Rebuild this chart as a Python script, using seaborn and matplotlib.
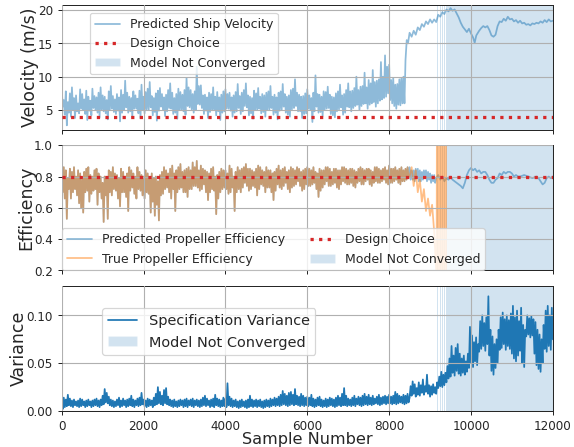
import numpy as np
import pandas as pd
import matplotlib
matplotlib.use("Agg")
import matplotlib.pyplot as plt
from matplotlib.lines import Line2D
from matplotlib.patches import Patch
import seaborn as sns

# ---------------- data ----------------
# Noisy stretches are read as an upper and a lower value per 50 samples.
STEP = 50
FINE_STEP = 25

velocity_hi = [
    8.0, 6.5, 7.8, 6.2, 7.5, 8.4, 6.8, 7.2, 6.0, 8.1, 7.4, 6.6, 7.9, 7.0, 6.4, 8.2, 7.1, 6.9, 7.6, 8.4,
    7.2, 7.0, 6.5, 7.8, 8.6, 7.1, 6.6, 7.4, 6.9, 8.0, 7.3, 9.4, 7.6, 7.0, 6.8, 7.8, 7.2, 6.7, 7.9, 8.8,
    7.0, 7.7, 8.2, 9.2, 7.1, 6.8, 7.5, 7.9, 8.3, 7.4, 6.9, 7.3, 8.0, 9.0, 7.6, 6.8, 7.4, 8.2, 7.7, 7.3,
    8.0, 9.8, 8.4, 8.0, 7.4, 7.8, 11.5, 8.6, 8.7, 7.2, 7.3, 6.9, 7.6, 7.4, 8.4, 7.0, 7.7, 6.9, 7.3, 7.8,
    8.1, 7.4, 7.6, 6.9, 7.2, 7.7, 8.9, 7.1, 7.6, 8.0, 9.0, 7.2, 7.0, 6.8, 7.9, 7.5, 8.3, 7.0, 7.4, 7.2,
    7.6, 7.8, 8.6, 7.0, 7.3, 6.9, 7.6, 7.8, 8.9, 7.4, 7.0, 7.2, 8.0, 8.2, 9.6, 7.6, 7.3, 7.0, 7.1, 7.5,
    8.1, 7.2, 6.8, 7.6, 10.2, 7.4, 7.3, 7.0, 7.8, 7.7, 8.5, 7.3, 7.0, 6.9, 7.5, 7.8, 8.8, 7.2, 7.4, 8.0,
    9.0, 7.8, 7.9, 8.3, 10.0, 8.0, 8.5, 8.6, 10.6, 8.4, 9.5, 9.0, 11.0, 9.2, 9.4, 9.6, 12.2, 10.0, 13.2, 11.5,
    11.8, 9.5, 9.8, 8.8, 8.9, 9.6, 9.8, 10.0,
]
velocity_lo = [
    5.5, 4.3, 2.7, 4.6, 4.0, 5.0, 3.8, 4.8, 4.5, 5.2, 5.0, 4.4, 3.5, 4.9, 4.2, 5.3, 5.0, 4.6, 3.9, 5.1,
    4.8, 4.5, 3.6, 5.0, 5.2, 4.7, 4.4, 4.9, 3.3, 4.6, 5.0, 5.4, 4.6, 4.8, 4.0, 5.2, 5.2, 4.5, 3.8, 5.0,
    4.5, 5.1, 5.0, 5.4, 4.2, 4.7, 3.4, 4.9, 5.5, 5.0, 4.1, 4.8, 5.3, 5.2, 4.4, 4.6, 3.7, 5.0, 5.0, 4.8,
    4.3, 5.6, 5.4, 5.1, 4.6, 5.0, 5.9, 5.8, 5.3, 4.4, 4.9, 3.8, 4.7, 5.0, 5.1, 4.2, 4.8, 3.5, 4.6, 4.8,
    5.2, 5.2, 4.9, 4.0, 4.6, 4.8, 5.3, 4.4, 4.8, 5.6, 5.4, 4.2, 4.5, 3.7, 5.0, 5.0, 5.2, 4.5, 4.7, 4.0,
    5.0, 5.1, 5.3, 4.3, 4.6, 3.6, 4.9, 5.0, 5.5, 4.6, 4.3, 4.0, 5.1, 5.3, 5.6, 4.8, 4.8, 3.8, 4.4, 4.5,
    5.2, 5.0, 3.2, 4.8, 5.5, 4.6, 4.7, 4.1, 5.0, 5.2, 5.3, 4.4, 4.2, 3.9, 4.8, 5.1, 5.4, 4.3, 4.6, 5.5,
    5.4, 4.8, 5.3, 5.6, 5.8, 5.0, 5.6, 5.9, 6.0, 5.2, 5.8, 6.0, 6.2, 5.5, 6.0, 6.4, 6.6, 6.8, 7.0, 7.5,
    6.5, 6.0, 5.6, 5.2, 5.8, 5.7, 6.0, 6.0,
]
velocity_late_x = [8400, 8430, 8460, 8500, 8550, 8600, 8650, 8700, 8750, 8800, 8850, 8900, 8950,
                   9000, 9050, 9100, 9150, 9200, 9250, 9300, 9350, 9400, 9450, 9500, 9550, 9600,
                   9650, 9700, 9750, 9800, 9850, 9900, 9950, 10000, 10050, 10090, 10130, 10200,
                   10250, 10300, 10350, 10400, 10450, 10500, 10550, 10600, 10650, 10700, 10750,
                   10800, 10850, 10900, 10950, 11000, 11050, 11100, 11150, 11200, 11250, 11300,
                   11350, 11400, 11450, 11500, 11550, 11600, 11650, 11700, 11750, 11800, 11850,
                   11900, 11950, 12000]
velocity_late_y = [12.5, 15.5, 15.0, 16.6, 16.0, 16.9, 16.3, 17.4, 17.0, 17.9, 17.5, 18.3, 17.9,
                   18.6, 18.1, 18.6, 18.2, 19.3, 19.0, 19.7, 19.4, 20.1, 19.8, 20.3, 19.9, 20.1,
                   19.5, 18.9, 18.1, 17.5, 17.1, 16.7, 17.2, 16.5, 15.9, 15.1, 16.2, 16.9,
                   17.3, 17.6, 17.4, 17.6, 17.0, 16.2, 16.0, 16.3, 17.6, 18.3, 18.2,
                   18.7, 18.4, 19.0, 18.6, 18.7, 18.3, 18.5, 18.1, 18.4, 18.0, 18.1,
                   17.8, 17.9, 17.7, 18.0, 17.9, 18.1, 18.0, 18.3, 18.1, 18.5, 18.2,
                   18.6, 18.3, 18.4]

efficiency_hi = [
    0.82, 0.86, 0.84, 0.79, 0.85, 0.83, 0.86, 0.80, 0.84, 0.82, 0.78, 0.83, 0.85, 0.86, 0.81, 0.80, 0.84, 0.85, 0.82, 0.80,
    0.76, 0.80, 0.78, 0.84, 0.83, 0.86, 0.82, 0.81, 0.79, 0.85, 0.83, 0.80, 0.82, 0.86, 0.84, 0.82, 0.80, 0.86, 0.83, 0.81,
    0.80, 0.84, 0.82, 0.78, 0.82, 0.79, 0.80, 0.77, 0.81, 0.83, 0.86, 0.84, 0.82, 0.85, 0.87, 0.82, 0.84, 0.86, 0.88, 0.83,
    0.84, 0.85, 0.86, 0.84, 0.89, 0.86, 0.90, 0.84, 0.87, 0.85, 0.84, 0.83, 0.82, 0.85, 0.86, 0.80, 0.81, 0.83, 0.85, 0.84,
    0.84, 0.82, 0.87, 0.85, 0.80, 0.83, 0.86, 0.84, 0.85, 0.86, 0.88, 0.85, 0.85, 0.84, 0.83, 0.85, 0.87, 0.86, 0.84, 0.83,
    0.86, 0.84, 0.84, 0.82, 0.83, 0.85, 0.87, 0.84, 0.85, 0.86, 0.83, 0.84, 0.86, 0.85, 0.84, 0.86, 0.85, 0.83, 0.84, 0.85,
    0.86, 0.85, 0.84, 0.86, 0.83, 0.82, 0.85, 0.84, 0.84, 0.86, 0.86, 0.85, 0.83, 0.85, 0.85, 0.84, 0.84, 0.86, 0.86, 0.85,
    0.84, 0.85, 0.85, 0.84, 0.83, 0.85, 0.86, 0.85, 0.84, 0.85, 0.85, 0.84, 0.83, 0.86, 0.86, 0.85, 0.84, 0.85, 0.86, 0.84,
    0.87, 0.85, 0.85, 0.86, 0.84, 0.85, 0.86, 0.84, 0.85, 0.86, 0.86, 0.84, 0.84, 0.85, 0.85, 0.84, 0.83, 0.84, 0.84, 0.83,
    0.82, 0.81, 0.81,
]
efficiency_lo = [
    0.70, 0.66, 0.53, 0.72, 0.66, 0.70, 0.72, 0.68, 0.63, 0.60, 0.57, 0.70, 0.71, 0.64, 0.69, 0.71, 0.72, 0.62, 0.70, 0.66,
    0.51, 0.68, 0.53, 0.70, 0.68, 0.72, 0.71, 0.66, 0.61, 0.70, 0.70, 0.67, 0.58, 0.71, 0.73, 0.69, 0.66, 0.72, 0.71, 0.68,
    0.66, 0.70, 0.69, 0.57, 0.64, 0.55, 0.62, 0.52, 0.68, 0.69, 0.72, 0.73, 0.70, 0.66, 0.72, 0.58, 0.70, 0.72, 0.73, 0.70,
    0.70, 0.67, 0.72, 0.72, 0.74, 0.74, 0.73, 0.71, 0.72, 0.75, 0.70, 0.65, 0.70, 0.72, 0.71, 0.56, 0.66, 0.70, 0.72, 0.73,
    0.72, 0.69, 0.70, 0.73, 0.58, 0.70, 0.72, 0.70, 0.73, 0.76, 0.74, 0.71, 0.72, 0.74, 0.73, 0.68, 0.72, 0.75, 0.74, 0.70,
    0.73, 0.73, 0.70, 0.65, 0.71, 0.75, 0.73, 0.72, 0.74, 0.76, 0.72, 0.70, 0.73, 0.74, 0.75, 0.77, 0.74, 0.71, 0.72, 0.75,
    0.74, 0.74, 0.75, 0.76, 0.72, 0.67, 0.71, 0.73, 0.75, 0.77, 0.74, 0.74, 0.75, 0.76, 0.73, 0.72, 0.75, 0.77, 0.76, 0.75,
    0.75, 0.76, 0.74, 0.73, 0.76, 0.77, 0.75, 0.75, 0.77, 0.78, 0.75, 0.74, 0.76, 0.77, 0.76, 0.76, 0.77, 0.78, 0.76, 0.75,
    0.76, 0.76, 0.77, 0.78, 0.76, 0.75, 0.77, 0.77, 0.78, 0.79, 0.78, 0.78, 0.77, 0.79, 0.77, 0.77, 0.78, 0.79, 0.77, 0.78,
    0.76, 0.77, 0.76,
]
efficiency_late_x = [9150, 9200, 9250, 9300, 9350, 9400, 9450, 9500, 9550, 9600, 9650, 9700, 9750,
                     9800, 9850, 9900, 9950, 10000, 10050, 10100, 10150, 10200, 10250, 10300, 10350,
                     10400, 10450, 10500, 10550, 10600, 10650, 10700, 10750, 10800, 10850, 10900,
                     10950, 11000, 11050, 11100, 11150, 11200, 11300, 11400, 11500, 11600, 11650,
                     11700, 11750, 11800, 11850, 11900, 11950, 12000]
efficiency_late_y = [0.79, 0.81, 0.78, 0.80, 0.77, 0.79, 0.78, 0.80, 0.78, 0.77, 0.76, 0.75, 0.74,
                     0.725, 0.76, 0.81, 0.84, 0.855, 0.84, 0.85, 0.83, 0.84, 0.82, 0.83, 0.83,
                     0.81, 0.78, 0.76, 0.76, 0.78, 0.79, 0.82, 0.81, 0.83, 0.82, 0.83,
                     0.83, 0.82, 0.80, 0.81, 0.80, 0.80, 0.81, 0.80, 0.79, 0.80, 0.79,
                     0.77, 0.75, 0.76, 0.79, 0.80, 0.79, 0.80]

TRUE_SHARED = 170  # true efficiency coincides with the prediction up to sample ~8475
true_tail_x = [8500, 8550, 8600, 8650, 8700, 8750, 8800, 8850, 8900, 8950, 9000, 9050, 9100,
               9130, 9160, 9170, 9180, 9190, 9200, 9210, 9220, 9230, 9240, 9250, 9260, 9270,
               9280, 9290, 9300, 9310, 9320, 9330, 9340, 9350, 9360, 9370, 9380, 9390]
true_tail_y = [0.80, 0.86, 0.74, 0.84, 0.70, 0.78, 0.64, 0.72, 0.58, 0.66, 0.55, 0.62, 0.45,
               0.30, 0.15, 1.5, -0.5, 1.5, -0.5, 1.5, -0.5, 1.5, -0.5, 1.5, -0.5, 1.5,
               -0.5, 1.5, -0.5, 1.5, -0.5, 1.5, -0.5, 1.5, -0.5, 1.5, -0.5, 1.5]

variance_hi = [
    0.010, 0.014, 0.012, 0.017, 0.013, 0.011, 0.012, 0.010, 0.011, 0.013, 0.012, 0.010, 0.011, 0.012, 0.010, 0.011, 0.012, 0.013, 0.011, 0.012,
    0.016, 0.023, 0.019, 0.015, 0.012, 0.011, 0.010, 0.012, 0.014, 0.011, 0.013, 0.011, 0.012, 0.013, 0.016, 0.012, 0.011, 0.013, 0.014, 0.019,
    0.012, 0.011, 0.013, 0.012, 0.011, 0.014, 0.018, 0.025, 0.020, 0.016, 0.022, 0.024, 0.015, 0.012, 0.011, 0.012, 0.010, 0.011, 0.012, 0.011,
    0.012, 0.013, 0.011, 0.012, 0.013, 0.011, 0.012, 0.011, 0.012, 0.014, 0.016, 0.013, 0.011, 0.012, 0.013, 0.017, 0.013, 0.012, 0.011, 0.014,
    0.013, 0.029, 0.015, 0.013, 0.011, 0.012, 0.010, 0.011, 0.012, 0.010, 0.011, 0.012, 0.016, 0.012, 0.011, 0.012, 0.011, 0.012, 0.010, 0.011,
    0.012, 0.011, 0.013, 0.012, 0.014, 0.013, 0.015, 0.017, 0.021, 0.018, 0.016, 0.019, 0.020, 0.017, 0.023, 0.016, 0.015, 0.018, 0.016, 0.014,
    0.015, 0.014, 0.017, 0.013, 0.012, 0.014, 0.015, 0.012, 0.011, 0.013, 0.012, 0.014, 0.013, 0.012, 0.014, 0.016, 0.014, 0.018, 0.024, 0.016,
    0.013, 0.012, 0.014, 0.016, 0.013, 0.015, 0.014, 0.016, 0.018, 0.015, 0.017, 0.014, 0.016, 0.013, 0.015, 0.017, 0.014, 0.015, 0.016, 0.015,
    0.017, 0.015, 0.016, 0.020, 0.018, 0.016, 0.015, 0.017, 0.016, 0.018,
]
variance_lo = [
    0.002, 0.004, 0.005, 0.006, 0.005, 0.004, 0.006, 0.005, 0.004, 0.005, 0.006, 0.004, 0.005, 0.006, 0.004, 0.005, 0.006, 0.005, 0.004, 0.006,
    0.007, 0.009, 0.008, 0.006, 0.005, 0.004, 0.005, 0.006, 0.004, 0.005, 0.006, 0.004, 0.005, 0.006, 0.005, 0.004, 0.006, 0.005, 0.006, 0.007,
    0.005, 0.004, 0.005, 0.006, 0.004, 0.006, 0.007, 0.008, 0.007, 0.006, 0.008, 0.007, 0.006, 0.005, 0.004, 0.005, 0.004, 0.005, 0.006, 0.004,
    0.005, 0.004, 0.006, 0.005, 0.004, 0.006, 0.005, 0.004, 0.005, 0.006, 0.005, 0.006, 0.004, 0.005, 0.004, 0.006, 0.005, 0.004, 0.005, 0.005,
    0.004, 0.006, 0.005, 0.004, 0.005, 0.004, 0.003, 0.004, 0.005, 0.004, 0.003, 0.004, 0.005, 0.004, 0.005, 0.004, 0.005, 0.004, 0.003, 0.004,
    0.005, 0.004, 0.005, 0.006, 0.005, 0.006, 0.005, 0.006, 0.007, 0.006, 0.005, 0.006, 0.007, 0.006, 0.007, 0.006, 0.005, 0.006, 0.005, 0.006,
    0.005, 0.006, 0.005, 0.004, 0.005, 0.006, 0.005, 0.004, 0.005, 0.004, 0.005, 0.006, 0.005, 0.004, 0.005, 0.006, 0.005, 0.006, 0.006, 0.005,
    0.006, 0.005, 0.006, 0.005, 0.007, 0.006, 0.005, 0.006, 0.007, 0.006, 0.007, 0.006, 0.007, 0.008, 0.007, 0.006, 0.007, 0.008, 0.007, 0.008,
    0.008, 0.007, 0.008, 0.007, 0.008, 0.009, 0.008, 0.007, 0.008, 0.009,
]
# variance, 8500 .. 12000 every 25 samples
variance_late = [
    0.014, 0.026, 0.016, 0.031, 0.018, 0.028, 0.015, 0.024, 0.017, 0.030, 0.016, 0.027, 0.019, 0.033, 0.017, 0.026, 0.020, 0.038, 0.018, 0.027,
    0.015, 0.026, 0.017, 0.028, 0.019, 0.025, 0.018, 0.030, 0.024, 0.036, 0.026, 0.041, 0.025, 0.038, 0.027, 0.040, 0.030, 0.047, 0.034, 0.055,
    0.036, 0.068, 0.040, 0.058, 0.037, 0.066, 0.042, 0.070, 0.039, 0.060, 0.037, 0.055, 0.040, 0.058, 0.038, 0.052, 0.041, 0.060, 0.045, 0.088,
    0.050, 0.079, 0.046, 0.072, 0.052, 0.077, 0.048, 0.070, 0.062, 0.094, 0.065, 0.100, 0.068, 0.092, 0.063, 0.098, 0.070, 0.120, 0.058, 0.085,
    0.042, 0.078, 0.038, 0.070, 0.045, 0.075, 0.050, 0.085, 0.064, 0.098, 0.066, 0.103, 0.070, 0.096, 0.064, 0.100, 0.068, 0.095, 0.065, 0.102,
    0.060, 0.110, 0.055, 0.098, 0.052, 0.105, 0.058, 0.094, 0.063, 0.108, 0.050, 0.090, 0.046, 0.085, 0.078, 0.100, 0.080, 0.097, 0.077, 0.099,
    0.079, 0.096, 0.060, 0.093, 0.048, 0.085, 0.044, 0.080, 0.041, 0.075, 0.050, 0.090, 0.065, 0.105, 0.062, 0.110, 0.068, 0.100, 0.064, 0.108,
    0.075,
]

design_velocity = 4.0
design_efficiency = 0.8
not_converged_start = [9170, 9210, 9250, 9295, 9340, 9385]
not_converged_end = [9190, 9225, 9262, 9310, 9355, 12000]
x_ticks = [0, 2000, 4000, 6000, 8000, 10000, 12000]


# ---------------- assemble ----------------
def interleave(hi, lo, step):
    """Upper value at k*step, lower value half a step later."""
    n = len(hi)
    xs = np.empty(2 * n)
    ys = np.empty(2 * n)
    xs[0::2] = np.arange(n) * step
    xs[1::2] = np.arange(n) * step + step / 2
    ys[0::2] = hi
    ys[1::2] = lo
    return list(xs), list(ys)


vx, vy = interleave(velocity_hi, velocity_lo, STEP)
ex, ey = interleave(efficiency_hi, efficiency_lo, STEP)
tx, ty = interleave(efficiency_hi[:TRUE_SHARED], efficiency_lo[:TRUE_SHARED], STEP)
sx, sy = interleave(variance_hi, variance_lo, STEP)
late_var_x = list(len(variance_hi) * STEP + np.arange(len(variance_late)) * FINE_STEP)

df_vel = pd.DataFrame({"x": vx + velocity_late_x, "y": vy + velocity_late_y})
df_eff = pd.DataFrame({"x": ex + efficiency_late_x, "y": ey + efficiency_late_y})
df_true = pd.DataFrame({"x": tx + true_tail_x, "y": ty + true_tail_y})
df_var = pd.DataFrame({"x": sx + late_var_x, "y": sy + variance_late})

# ---------------- style ----------------
sns.set_style("ticks")
plt.rcParams["font.family"] = ["DejaVu Sans"]
plt.rcParams["axes.axisbelow"] = False

BLUE = "#1f77b4"
ORANGE = "#ff7f0e"
RED = "#d62728"
LW = 1.4

fig, axes = plt.subplots(3, 1, sharex=True, figsize=(6.4, 4.985), dpi=89.7)
fig.subplots_adjust(left=0.1075, right=0.963, top=0.989, bottom=0.0805, hspace=0.122)
ax1, ax2, ax3 = axes


def spans(ax):
    for s, e in zip(not_converged_start, not_converged_end):
        ax.axvspan(s, e, color=BLUE, alpha=0.2, lw=0, zorder=1)


# top
spans(ax1)
sns.lineplot(data=df_vel, x="x", y="y", ax=ax1, color=BLUE, alpha=0.5, lw=LW,
             estimator=None, sort=False, legend=False)
sns.lineplot(x=[0, 12000], y=[design_velocity, design_velocity], ax=ax1, color=RED,
             lw=2.6, ls=":", legend=False, zorder=3)
ax1.set_ylim(2.0, 20.8)
ax1.set_yticks([5, 10, 15, 20])
ax1.set_ylabel("Velocity (m/s)", fontsize=14, labelpad=-1)
h1 = [Line2D([], [], color=BLUE, alpha=0.5, lw=1.4),
      Line2D([], [], color=RED, lw=2.6, ls=":"),
      Patch(facecolor=BLUE, alpha=0.2)]
ax1.legend(h1, ["Predicted Ship Velocity", "Design Choice", "Model Not Converged"],
           loc="upper left", bbox_to_anchor=(0.057, 0.935), borderaxespad=0, fontsize=10)

# middle
spans(ax2)
sns.lineplot(data=df_eff, x="x", y="y", ax=ax2, color=BLUE, alpha=0.5, lw=LW,
             estimator=None, sort=False, legend=False)
sns.lineplot(data=df_true, x="x", y="y", ax=ax2, color=ORANGE, alpha=0.5, lw=LW,
             estimator=None, sort=False, legend=False)
sns.lineplot(x=[0, 12000], y=[design_efficiency, design_efficiency], ax=ax2, color=RED,
             lw=2.6, ls=":", legend=False, zorder=3)
ax2.set_ylim(0.2, 1.0)
ax2.set_yticks([0.2, 0.4, 0.6, 0.8, 1.0])
ax2.set_ylabel("Efficiency", fontsize=14, labelpad=-1)
h2 = [Line2D([], [], color=BLUE, alpha=0.5, lw=1.4),
      Line2D([], [], color=ORANGE, alpha=0.5, lw=1.4),
      Line2D([], [], color=RED, lw=2.6, ls=":"),
      Patch(facecolor=BLUE, alpha=0.2)]
ax2.legend(h2, ["Predicted Propeller Efficiency", "True Propeller Efficiency",
                "Design Choice", "Model Not Converged"],
           loc="lower left", borderaxespad=0, ncol=2, fontsize=10)

# bottom
spans(ax3)
sns.lineplot(data=df_var, x="x", y="y", ax=ax3, color=BLUE, lw=1.4,
             estimator=None, sort=False, legend=False)
ax3.set_ylim(0, 0.131)
ax3.set_yticks([0.0, 0.05, 0.10])
ax3.set_yticklabels(["0.00", "0.05", "0.10"])
ax3.set_ylabel("Variance", fontsize=14, labelpad=-1)
h3 = [Line2D([], [], color=BLUE, lw=1.4), Patch(facecolor=BLUE, alpha=0.2)]
ax3.legend(h3, ["Specification Variance", "Model Not Converged"],
           loc="upper left", bbox_to_anchor=(0.082, 0.82), borderaxespad=0, fontsize=11.7)

ax3.set_xlim(0, 12000)
ax3.set_xticks(x_ticks)
ax3.set_xlabel("Sample Number", fontsize=13, labelpad=-1)

for ax in axes:
    ax.grid(True, color="#b0b0b0", lw=0.9)
    ax.tick_params(labelsize=9.6)
    for sp in ax.spines.values():
        sp.set_color("#262626")
for ax in (ax1, ax2):
    ax.set_xlabel("")

fig.savefig("out.png", dpi=89.7)
